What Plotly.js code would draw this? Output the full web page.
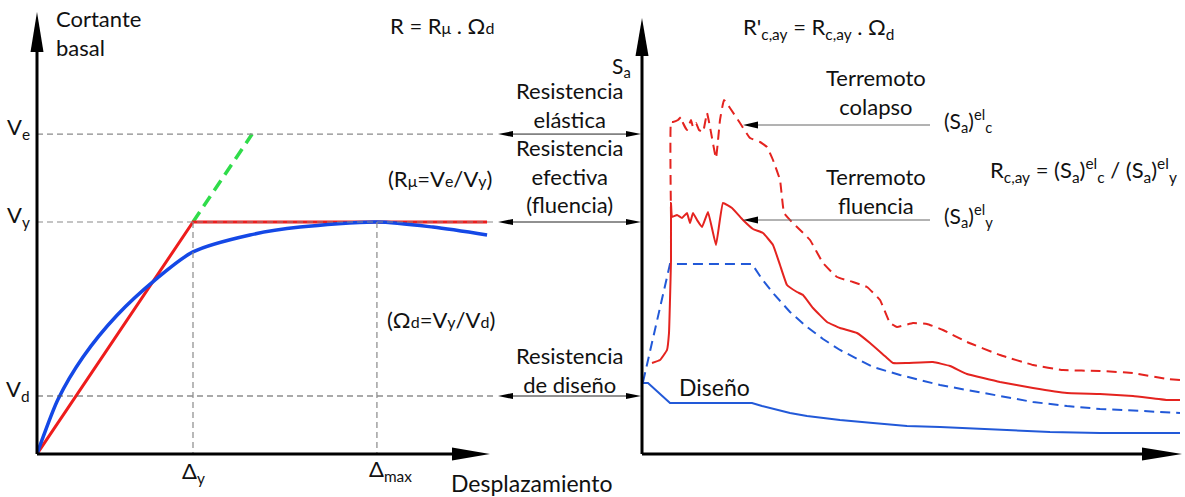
<!DOCTYPE html>
<html><head><meta charset="utf-8">
<script src="https://cdn.plot.ly/plotly-3.0.1.min.js"></script>
<style>html,body{margin:0;padding:0;background:#fff}#chart{width:1185px;height:497px}</style>
</head><body><div id="chart"></div>
<script>
// ---- Left panel: capacity curve (displacement normalised by Δy, shear by Vy)
const Vy = 1.0, Ve = 1.379, Vd = 0.25, DeltaY = 1.0, DeltaMax = 2.179;
const dispPushover = [0, 0.04, 0.135, 0.295, 0.513, 0.769, 1.0, 1.365, 1.686, 2.179, 2.538, 2.885];
const shearPushover = [0, 0.075, 0.236, 0.418, 0.598, 0.757, 0.871, 0.944, 0.978, 1.0, 0.978, 0.944];
const dispBilinear = [0, 1.0, 2.885];
const shearBilinear = [0, 1.0, 1.0];
const dispElastic = [1.0, 1.379];
const shearElastic = [1.0, 1.379];

// ---- Right panel: spectra (period T, spectral acceleration Sa)
const T_elastDesign = [0.01, 0.28, 1.10, 1.20, 1.31, 1.48, 1.65, 1.81, 1.98, 2.15, 2.31, 2.58, 2.98, 3.25, 3.58, 3.91, 4.25, 4.58, 5.00, 5.38];
const Sa_elastDesign = [0.72, 1.90, 1.90, 1.75, 1.61, 1.42, 1.27, 1.15, 1.04, 0.95, 0.87, 0.79, 0.69, 0.64, 0.58, 0.52, 0.48, 0.45, 0.43, 0.41];
const T_design = [0.0, 0.06, 0.28, 1.10, 1.20, 1.31, 1.48, 1.65, 1.98, 2.31, 2.65, 2.98, 3.58, 4.08, 4.58, 5.38];
const Sa_design = [0.71, 0.71, 0.51, 0.51, 0.48, 0.45, 0.41, 0.38, 0.34, 0.31, 0.28, 0.27, 0.24, 0.22, 0.21, 0.21];
const T_yield = [0.10, 0.18, 0.25, 0.27, 0.28, 0.29, 0.29, 0.30, 0.35, 0.40, 0.45, 0.48, 0.51, 0.55, 0.60, 0.66, 0.74, 0.81, 0.90, 1.01, 1.11, 1.21, 1.31, 1.38, 1.45, 1.55, 1.61, 1.71, 1.85, 1.98, 2.15, 2.28, 2.45, 2.51, 2.65, 2.91, 3.08, 3.25, 3.58, 3.91, 4.25, 4.58, 4.91, 5.25, 5.38];
const Sa_yield = [0.91, 0.94, 1.04, 1.21, 1.54, 1.94, 2.51, 2.37, 2.39, 2.36, 2.41, 2.31, 2.41, 2.34, 2.27, 2.42, 2.09, 2.51, 2.46, 2.34, 2.25, 2.21, 2.09, 1.89, 1.69, 1.62, 1.59, 1.46, 1.32, 1.26, 1.21, 1.11, 0.96, 0.91, 0.91, 0.92, 0.88, 0.80, 0.72, 0.66, 0.61, 0.60, 0.58, 0.54, 0.54];
const T_collapse = [0.29, 0.29, 0.31, 0.36, 0.39, 0.41, 0.45, 0.49, 0.51, 0.54, 0.57, 0.61, 0.65, 0.68, 0.74, 0.78, 0.82, 0.88, 0.98, 1.08, 1.18, 1.25, 1.31, 1.38, 1.42, 1.48, 1.55, 1.68, 1.81, 1.95, 2.11, 2.25, 2.38, 2.48, 2.55, 2.71, 2.85, 3.01, 3.25, 3.58, 3.91, 4.21, 4.58, 4.91, 5.25, 5.38];
const Sa_collapse = [2.37, 3.32, 3.32, 3.34, 3.37, 3.31, 3.24, 3.34, 3.27, 3.31, 3.24, 3.22, 3.41, 3.27, 2.96, 3.34, 3.54, 3.46, 3.31, 3.16, 3.12, 3.07, 2.94, 2.74, 2.41, 2.34, 2.27, 2.14, 1.91, 1.77, 1.72, 1.67, 1.54, 1.31, 1.27, 1.31, 1.30, 1.24, 1.12, 0.99, 0.89, 0.84, 0.83, 0.81, 0.75, 0.74];
const SaArrowLevel = [3.29, 2.34]; // levels pointed by the (Sa)el arrows

// ---- geometry helpers (figure pixels -> paper)
const W = 1185, H = 497;
const X0L = 37, Y0 = 454, SXL = 156, SYL = 232;   // left panel
const X0R = 642, SXR = 100, SYR = 100;           // right panel
const xRangeL = [0, 3.0], yRangeL = [0, 1.905];
const xRangeR = [0, 5.4], yRangeR = [0, 4.4];
const px = x => x / W, py = y => 1 - y / H;
const lx = d => X0L + SXL * d, ly = v => Y0 - SYL * v;
const rx = d => X0R + SXR * d, ry = v => Y0 - SYR * v;

function tri(x1,y1,x2,y2,x3,y3,color){
  return {type:'path', xref:'paper', yref:'paper', layer:'above',
    path:`M${px(x1)},${py(y1)} L${px(x2)},${py(y2)} L${px(x3)},${py(y3)} Z`,
    fillcolor: color||'#000', line:{width:0}};
}
function seg(x1,y1,x2,y2,color,width,dash){
  return {type:'line', xref:'paper', yref:'paper', layer:'above',
    x0:px(x1), y0:py(y1), x1:px(x2), y1:py(y2), line:{color:color, width:width, dash:dash||'solid'}};
}

const RED_L = '#ee1c1c', BLUE_L = '#1448e6', GREEN = '#2fdc4a';
const RED_R = '#e4231f', BLUE_R = '#2259d8';

const traces = [
  {x: dispElastic, y: shearElastic, xaxis:'x', yaxis:'y', mode:'lines', line:{color:GREEN, width:3.5, dash:'12px,7px'}, hoverinfo:'skip'},
  {x: dispBilinear, y: shearBilinear, xaxis:'x', yaxis:'y', mode:'lines', line:{color:RED_L, width:3}, hoverinfo:'skip'},
  {x: dispPushover, y: shearPushover, xaxis:'x', yaxis:'y', mode:'lines', line:{color:BLUE_L, width:3.5, shape:'spline', smoothing:0.8}, hoverinfo:'skip'},
  {x: T_elastDesign, y: Sa_elastDesign, xaxis:'x2', yaxis:'y2', mode:'lines', line:{color:BLUE_R, width:2, dash:'10px,6px'}, hoverinfo:'skip'},
  {x: T_design, y: Sa_design, xaxis:'x2', yaxis:'y2', mode:'lines', line:{color:BLUE_R, width:2}, hoverinfo:'skip'},
  {x: T_yield, y: Sa_yield, xaxis:'x2', yaxis:'y2', mode:'lines', line:{color:RED_R, width:2, shape:'spline', smoothing:0.3}, hoverinfo:'skip'},
  {x: T_collapse, y: Sa_collapse, xaxis:'x2', yaxis:'y2', mode:'lines', line:{color:RED_R, width:2, dash:'10px,6px', shape:'spline', smoothing:0.3}, hoverinfo:'skip'}
];

const GRAY = '#8a8a8a';
const gapEnd = 497;
const shapes = [
  seg(X0L, ly(Ve), gapEnd, ly(Ve), GRAY, 1.2, '6px,4px'),
  seg(X0L, ly(Vy), gapEnd, ly(Vy), GRAY, 1.2, '6px,4px'),
  seg(X0L, ly(Vd), gapEnd, ly(Vd), '#555', 1.2, '6px,4px'),
  seg(lx(DeltaY), ly(Vy), lx(DeltaY), Y0, GRAY, 1.2, '6px,4px'),
  seg(lx(DeltaMax), ly(Vy), lx(DeltaMax), Y0, GRAY, 1.2, '6px,4px'),
  seg(X0L, Y0, X0L, 48, '#000', 3),
  seg(X0L, Y0, 455, Y0, '#000', 3),
  tri(X0L, 12, X0L-6.5, 52, X0L+6.5, 52),
  tri(490, Y0, 452, Y0-6.5, 452, Y0+6.5),
  seg(X0R, Y0, X0R, 52, '#000', 3),
  seg(X0R, Y0, 1145, Y0, '#000', 3),
  tri(X0R, 18, X0R-6.5, 56, X0R+6.5, 56),
  tri(1182, Y0, 1142, Y0-6.5, 1142, Y0+6.5)
];
[Ve, Vy, Vd].forEach(v => {
  const yy = ly(v);
  shapes.push(seg(gapEnd+8, yy, X0R-8, yy, '#222', 1));
  shapes.push(tri(gapEnd+1, yy, gapEnd+16, yy-3, gapEnd+16, yy+3));
  shapes.push(tri(X0R-1, yy, X0R-16, yy-3, X0R-16, yy+3));
});
SaArrowLevel.forEach(s => {
  const yy = ry(s);
  shapes.push(seg(756, yy, 930, yy, '#666', 1));
  shapes.push(tri(743, yy, 758, yy-3.5, 758, yy+3.5));
});

const F = 'Lato, "Open Sans", sans-serif';
function txt(text, x, y, opts, size){
  return Object.assign({text:text, xref:'paper', yref:'paper', x:px(x), y:py(y), showarrow:false,
    xanchor:'center', yanchor:'middle', font:{family:F, size:size||23, color:'#111'}}, opts||{});
}
const sm = s => `<span style="font-size:16px">${s}</span>`;
const annotations = [
  txt('Cortante<br>basal', 54, 33, {xanchor:'left', align:'left'}, 22),
  txt('V<sub>e</sub>', 32, ly(Ve)-6, {xanchor:'right'}, 22),
  txt('V<sub>y</sub>', 32, ly(Vy)-6, {xanchor:'right'}, 22),
  txt('V<sub>d</sub>', 32, ly(Vd)-6, {xanchor:'right'}, 22),
  txt('Δ<sub>y</sub>', lx(DeltaY), 472, {}, 22),
  txt('Δ<sub>max</sub>', lx(DeltaMax)+14, 470, {}, 22),
  txt('Desplazamiento', 532, 483),
  txt('R = R' + sm('μ') + ' . Ω' + sm('d'), 442, 25, {}, 22),
  txt('(R' + sm('μ') + '=V' + sm('e') + '/V' + sm('y') + ')', 440, 178, {}, 22),
  txt('(Ω' + sm('d') + '=V' + sm('y') + '/V' + sm('d') + ')', 441, 319, {}, 22),
  txt('Resistencia<br>elástica', 569, 105, {}, 22),
  txt('Resistencia<br>efectiva<br>(fluencia)', 569, 176, {}, 22),
  txt('Resistencia<br>de diseño', 569, 370, {}, 22),
  txt('S<sub>a</sub>', 621, 67, {}, 21),
  txt("R'<sub>c,ay</sub> = R<sub>c,ay</sub> . Ω<sub>d</sub>", 818, 28, {}, 22),
  txt('Terremoto<br>colapso', 876, 92, {}, 22),
  txt('Terremoto<br>fluencia', 876, 191, {}, 22),
  txt('(S<sub>a</sub>)<sup>el</sup><sub>c</sub>', 942, 120, {xanchor:'left'}, 21),
  txt('(S<sub>a</sub>)<sup>el</sup><sub>y</sub>', 942, 215, {xanchor:'left'}, 21),
  txt('R<sub>c,ay</sub> = (S<sub>a</sub>)<sup>el</sup><sub>c</sub> / (S<sub>a</sub>)<sup>el</sup><sub>y</sub>', 1083, 170, {}, 22),
  txt('Diseño', 714, 387)
];

const axBase = {visible:false, fixedrange:true, showgrid:false, zeroline:false};
const layout = {
  width: W, height: H, margin:{l:0, r:0, t:0, b:0}, showlegend:false,
  paper_bgcolor:'#fff', plot_bgcolor:'rgba(0,0,0,0)',
  xaxis: Object.assign({}, axBase, {range:xRangeL, domain:[px(X0L), px(X0L + SXL*xRangeL[1])], anchor:'y'}),
  yaxis: Object.assign({}, axBase, {range:yRangeL, domain:[py(Y0), py(Y0 - SYL*yRangeL[1])], anchor:'x'}),
  xaxis2: Object.assign({}, axBase, {range:xRangeR, domain:[px(X0R), px(X0R + SXR*xRangeR[1])], anchor:'y2'}),
  yaxis2: Object.assign({}, axBase, {range:yRangeR, domain:[py(Y0), py(Y0 - SYR*yRangeR[1])], anchor:'x2'}),
  shapes: shapes, annotations: annotations
};
Plotly.newPlot('chart', traces, layout, {staticPlot:true, displayModeBar:false});
</script></body></html>
